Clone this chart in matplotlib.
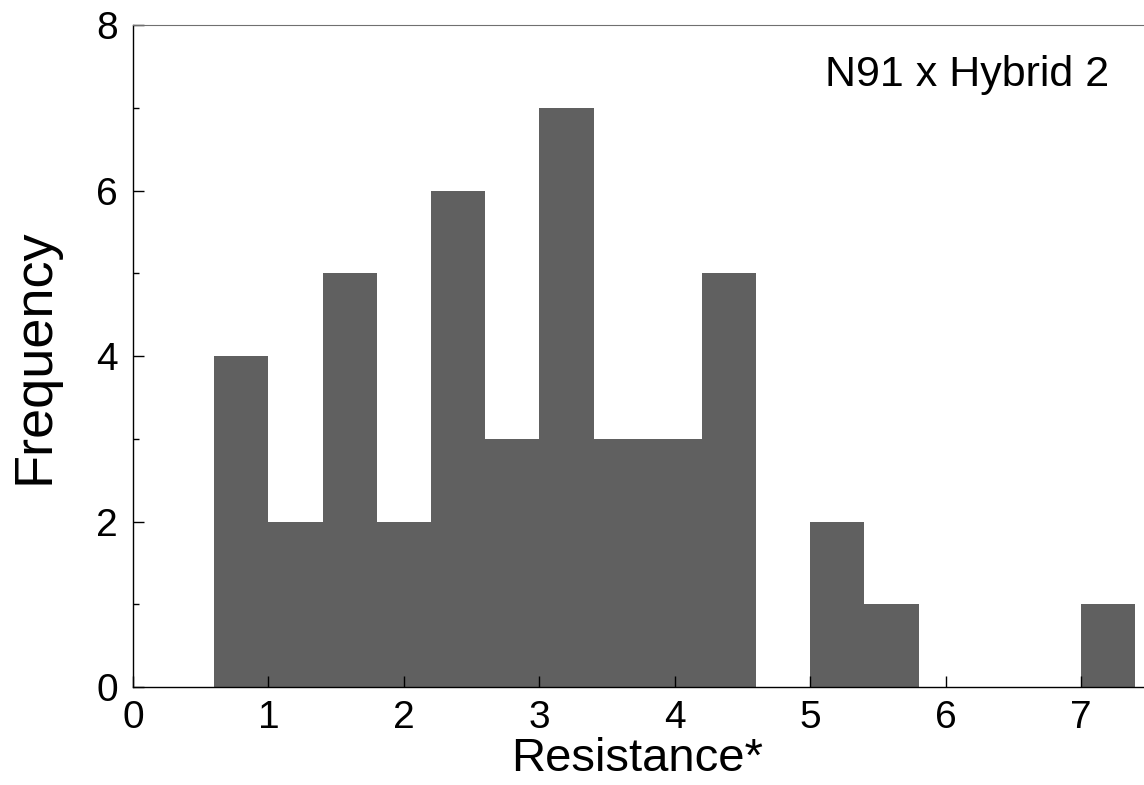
import matplotlib
matplotlib.use("Agg")
import matplotlib.pyplot as plt
import numpy as np

# histogram bins (left edges, width 0.4) and counts
bin_left = [0.6, 1.0, 1.4, 1.8, 2.2, 2.6, 3.0, 3.4, 3.8, 4.2, 4.6, 5.0, 5.4,
            5.8, 6.2, 6.6, 7.0]
counts = [4, 2, 5, 2, 6, 3, 7, 3, 3, 5, 0, 2, 1, 0, 0, 0, 1]
bin_width = 0.4
x_ticks = [0, 1, 2, 3, 4, 5, 6, 7]
y_ticks = [0, 2, 4, 6, 8]

plt.rcParams["font.family"] = ["Liberation Sans", "DejaVu Sans"]

fig = plt.figure(figsize=(11.44, 7.85), dpi=100)
ax = fig.add_axes([0.1163, 0.1248, 0.8997, 0.8433])

ax.bar(bin_left, counts, width=bin_width, align="edge", color="#606060",
       edgecolor="none")

ax.set_xlim(0, 7.6)
ax.set_ylim(0, 8)
ax.set_xticks(x_ticks)
ax.set_yticks(y_ticks)
ax.set_yticks([1, 3, 5, 7], minor=True)
ax.tick_params(axis="both", which="major", direction="in", length=8,
               width=1, labelsize=28)
ax.tick_params(axis="y", which="major", pad=11)
ax.tick_params(axis="x", which="major", pad=9)
ax.tick_params(axis="y", which="minor", direction="in", length=4, width=1)

ax.spines["right"].set_visible(False)
ax.spines["top"].set_color("#707070")
for s in ("left", "bottom"):
    ax.spines[s].set_linewidth(1)

ax.set_xlabel("Resistance*", fontsize=34)
ax.xaxis.set_label_coords(0.49, -0.075)
ax.set_ylabel("Frequency", fontsize=39, labelpad=26)

ax.text(6.16, 7.4, "N91 x Hybrid 2", fontsize=31, ha="center", va="center")

fig.savefig("out.png", dpi=100)
